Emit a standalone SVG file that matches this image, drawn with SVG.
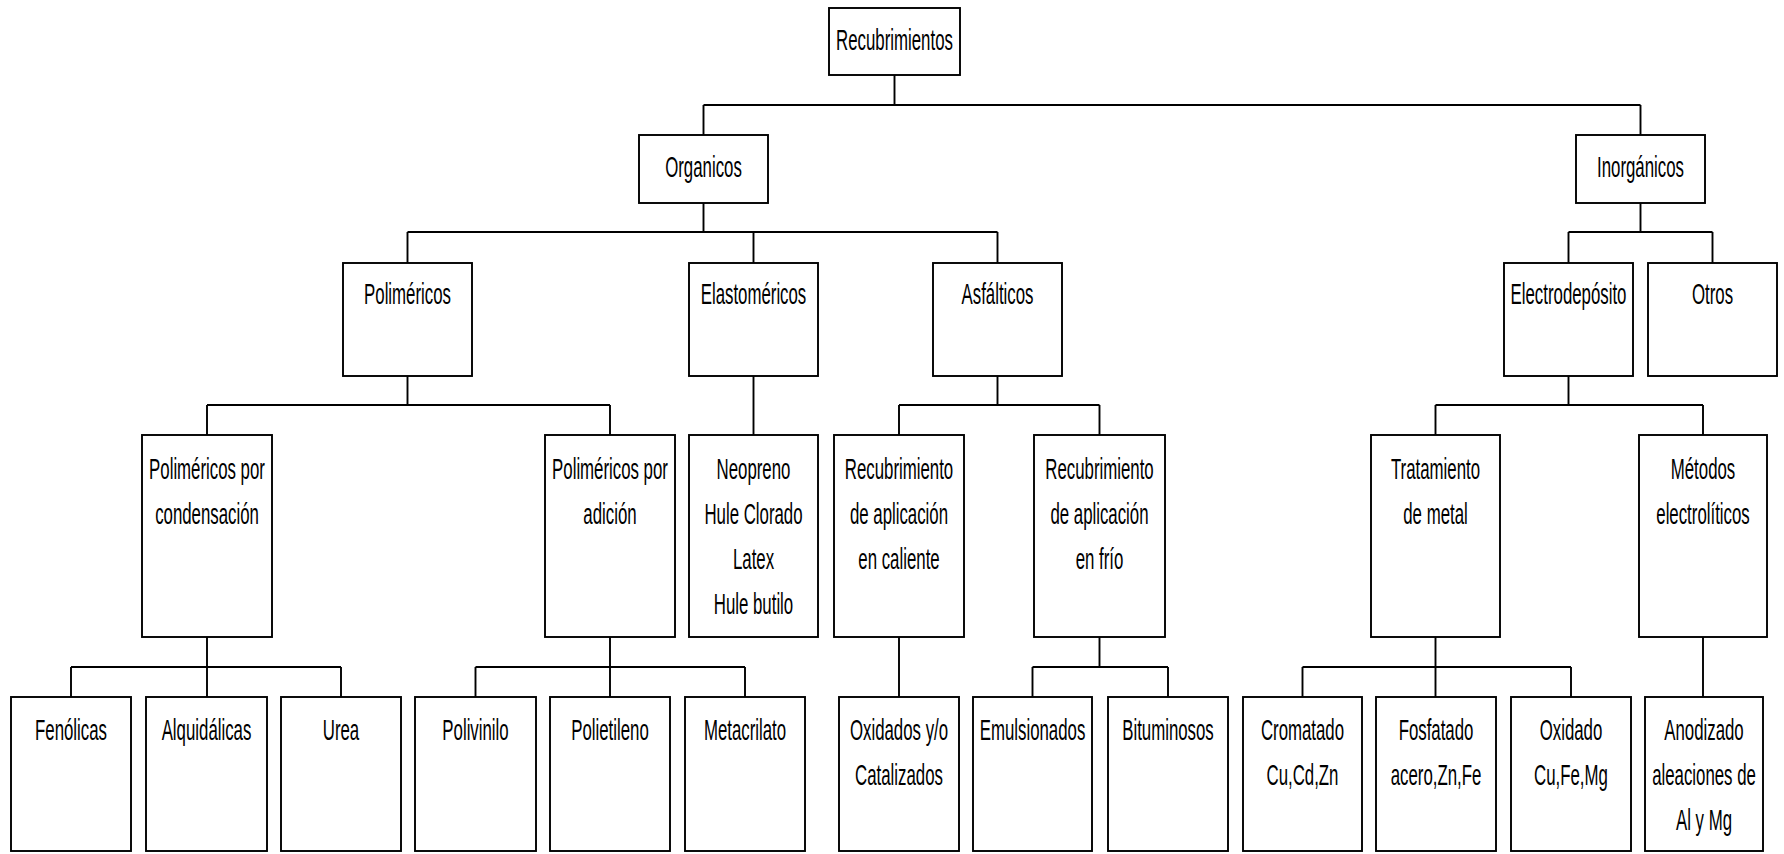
<svg xmlns="http://www.w3.org/2000/svg" width="1784" height="854" viewBox="0 0 1784 854">
<style>
.b{fill:#fff;stroke:#000;stroke-width:1.9}
.c{fill:none;stroke:#000;stroke-width:1.9}
text{font-family:"Liberation Sans",Arial,sans-serif;font-size:29px;fill:#000;text-anchor:middle}
</style>
<rect width="1784" height="854" fill="#fff"/>
<g id="connectors">
<path class="c" d="M894.5 75V105M703.5 105H1640.5M703.5 105V135M1640.5 105V135"/>
<path class="c" d="M703.5 203V232M407.5 232H997.5M407.5 232V263M753.5 232V263M997.5 232V263"/>
<path class="c" d="M1640.5 203V232M1568.5 232H1712.5M1568.5 232V263M1712.5 232V263"/>
<path class="c" d="M407.5 376V405M207 405H610M207 405V435M610 405V435"/>
<path class="c" d="M753.5 376V435"/>
<path class="c" d="M997.5 376V405M899 405H1099.5M899 405V435M1099.5 405V435"/>
<path class="c" d="M1568.5 376V405M1435.5 405H1703M1435.5 405V435M1703 405V435"/>
<path class="c" d="M207 637V667M71 667H341M71 667V697M207 667V697M341 667V697"/>
<path class="c" d="M610 637V667M475.5 667H745M475.5 667V697M610 667V697M745 667V697"/>
<path class="c" d="M899 637V697"/>
<path class="c" d="M1099.5 637V667M1032.5 667H1168M1032.5 667V697M1168 667V697"/>
<path class="c" d="M1435.5 637V667M1302.5 667H1571M1302.5 667V697M1435.5 667V697M1571 667V697"/>
<path class="c" d="M1703 637V697"/>
</g>
<g id="recubrimientos"><rect class="b" x="829" y="8" width="131" height="67"/><text transform="translate(894.5,50) scale(0.58,1)">Recubrimientos</text></g>
<g id="organicos"><rect class="b" x="639" y="135" width="129" height="68"/><text transform="translate(703.5,177) scale(0.58,1)">Organicos</text></g>
<g id="inorganicos"><rect class="b" x="1576" y="135" width="129" height="68"/><text transform="translate(1640.5,177) scale(0.58,1)">Inorgánicos</text></g>
<g id="polimericos"><rect class="b" x="343" y="263" width="129" height="113"/><text transform="translate(407.5,304) scale(0.58,1)">Poliméricos</text></g>
<g id="elastomericos"><rect class="b" x="689" y="263" width="129" height="113"/><text transform="translate(753.5,304) scale(0.58,1)">Elastoméricos</text></g>
<g id="asfalticos"><rect class="b" x="933" y="263" width="129" height="113"/><text transform="translate(997.5,304) scale(0.58,1)">Asfálticos</text></g>
<g id="electrodeposito"><rect class="b" x="1504" y="263" width="129" height="113"/><text transform="translate(1568.5,304) scale(0.58,1)">Electrodepósito</text></g>
<g id="otros"><rect class="b" x="1648" y="263" width="129" height="113"/><text transform="translate(1712.5,304) scale(0.58,1)">Otros</text></g>
<g id="condensacion"><rect class="b" x="142" y="435" width="130" height="202"/><text transform="translate(207,479) scale(0.58,1)"><tspan x="0" y="0">Poliméricos por</tspan><tspan x="0" y="45">condensación</tspan></text></g>
<g id="adicion"><rect class="b" x="545" y="435" width="130" height="202"/><text transform="translate(610,479) scale(0.58,1)"><tspan x="0" y="0">Poliméricos por</tspan><tspan x="0" y="45">adición</tspan></text></g>
<g id="neopreno"><rect class="b" x="689" y="435" width="129" height="202"/><text transform="translate(753.5,479) scale(0.58,1)"><tspan x="0" y="0">Neopreno</tspan><tspan x="0" y="45">Hule Clorado</tspan><tspan x="0" y="90">Latex</tspan><tspan x="0" y="135">Hule butilo</tspan></text></g>
<g id="caliente"><rect class="b" x="834" y="435" width="130" height="202"/><text transform="translate(899,479) scale(0.58,1)"><tspan x="0" y="0">Recubrimiento</tspan><tspan x="0" y="45">de aplicación</tspan><tspan x="0" y="90">en caliente</tspan></text></g>
<g id="frio"><rect class="b" x="1034" y="435" width="131" height="202"/><text transform="translate(1099.5,479) scale(0.58,1)"><tspan x="0" y="0">Recubrimiento</tspan><tspan x="0" y="45">de aplicación</tspan><tspan x="0" y="90">en frío</tspan></text></g>
<g id="tratamiento"><rect class="b" x="1371" y="435" width="129" height="202"/><text transform="translate(1435.5,479) scale(0.58,1)"><tspan x="0" y="0">Tratamiento</tspan><tspan x="0" y="45">de metal</tspan></text></g>
<g id="metodos"><rect class="b" x="1639" y="435" width="128" height="202"/><text transform="translate(1703,479) scale(0.58,1)"><tspan x="0" y="0">Métodos</tspan><tspan x="0" y="45">electrolíticos</tspan></text></g>
<g id="fenolicas"><rect class="b" x="11" y="697" width="120" height="154"/><text transform="translate(71,740) scale(0.58,1)">Fenólicas</text></g>
<g id="alquidalicas"><rect class="b" x="146" y="697" width="121" height="154"/><text transform="translate(206.5,740) scale(0.58,1)">Alquidálicas</text></g>
<g id="urea"><rect class="b" x="281" y="697" width="120" height="154"/><text transform="translate(341,740) scale(0.58,1)">Urea</text></g>
<g id="polivinilo"><rect class="b" x="415" y="697" width="121" height="154"/><text transform="translate(475.5,740) scale(0.58,1)">Polivinilo</text></g>
<g id="polietileno"><rect class="b" x="550" y="697" width="120" height="154"/><text transform="translate(610,740) scale(0.58,1)">Polietileno</text></g>
<g id="metacrilato"><rect class="b" x="685" y="697" width="120" height="154"/><text transform="translate(745,740) scale(0.58,1)">Metacrilato</text></g>
<g id="oxidados"><rect class="b" x="839" y="697" width="120" height="154"/><text transform="translate(899,740) scale(0.58,1)"><tspan x="0" y="0">Oxidados y/o</tspan><tspan x="0" y="45">Catalizados</tspan></text></g>
<g id="emulsionados"><rect class="b" x="973" y="697" width="119" height="154"/><text transform="translate(1032.5,740) scale(0.58,1)">Emulsionados</text></g>
<g id="bituminosos"><rect class="b" x="1108" y="697" width="120" height="154"/><text transform="translate(1168,740) scale(0.58,1)">Bituminosos</text></g>
<g id="cromatado"><rect class="b" x="1243" y="697" width="119" height="154"/><text transform="translate(1302.5,740) scale(0.58,1)"><tspan x="0" y="0">Cromatado</tspan><tspan x="0" y="45">Cu,Cd,Zn</tspan></text></g>
<g id="fosfatado"><rect class="b" x="1376" y="697" width="120" height="154"/><text transform="translate(1436,740) scale(0.58,1)"><tspan x="0" y="0">Fosfatado</tspan><tspan x="0" y="45">acero,Zn,Fe</tspan></text></g>
<g id="oxidado"><rect class="b" x="1511" y="697" width="120" height="154"/><text transform="translate(1571,740) scale(0.58,1)"><tspan x="0" y="0">Oxidado</tspan><tspan x="0" y="45">Cu,Fe,Mg</tspan></text></g>
<g id="anodizado"><rect class="b" x="1645" y="697" width="118" height="154"/><text transform="translate(1704,740) scale(0.58,1)"><tspan x="0" y="0">Anodizado</tspan><tspan x="0" y="45">aleaciones de</tspan><tspan x="0" y="90">Al y Mg</tspan></text></g>
</svg>
